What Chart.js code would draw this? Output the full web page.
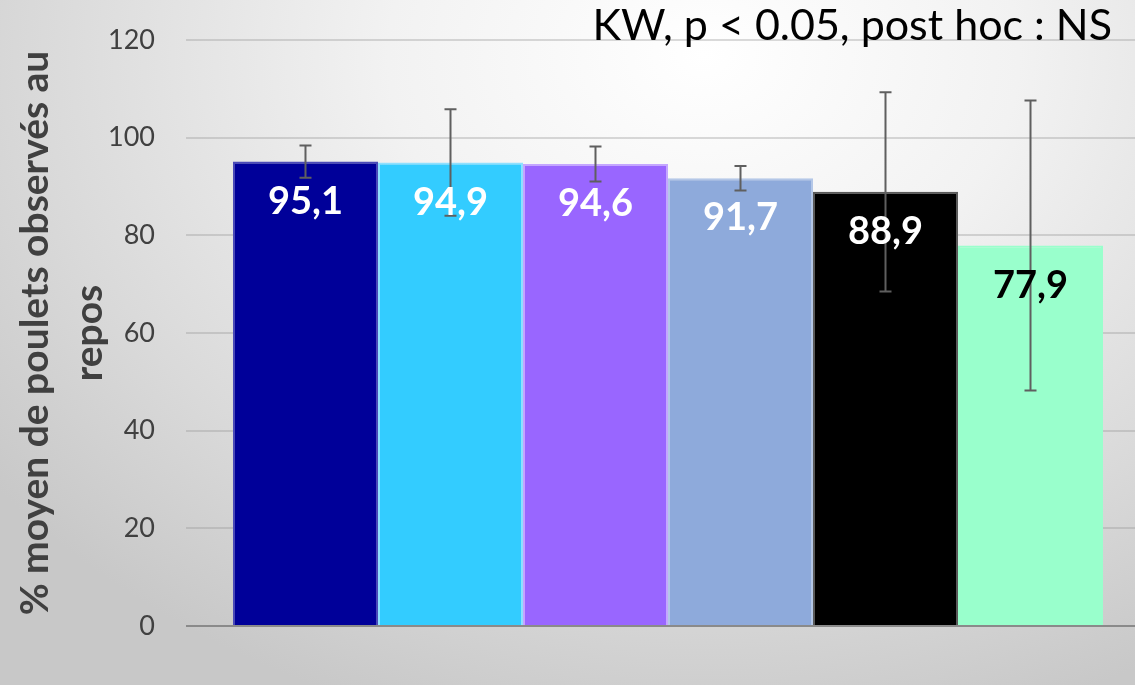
<!DOCTYPE html>
<html>
<head>
<meta charset="utf-8">
<script src="https://cdn.jsdelivr.net/npm/chart.js@4"></script>
<style>
  html, body { margin: 0; padding: 0; overflow: hidden; }
  body {
    width: 1135px; height: 685px;
    background: radial-gradient(ellipse 900px 700px at 62% 8%, #ffffff 0%, #f2f2f2 35%, #d9d9d9 75%, #c8c8c8 100%);
  }
  #wrap { position: absolute; left: 0; top: 0; width: 1150px; height: 685px; }
</style>
</head>
<body>
<div id="wrap"><canvas id="restChart" width="1150" height="685"></canvas></div>
<script>
// groups (no names shown on the chart)
const groups = ['Lot 1', 'Lot 2', 'Lot 3', 'Lot 4', 'Lot 5', 'Lot 6'];
const means = [95.1, 94.9, 94.6, 91.7, 88.9, 77.9];
const sds = [3.3, 10.9, 3.6, 2.5, 20.4, 29.7];
const yTicks = [0, 20, 40, 60, 80, 100, 120];

const fills = ['#000099', '#33ccff', '#9966ff', '#8eaadb', '#000000', '#99ffcc'];
const borders = ['#4a4ab8', '#8fe0ff', '#c4a6ff', '#b4c7e7', '#5a5a5a', '#99ffcc'];
const labelColors = ['#ffffff', '#ffffff', '#ffffff', '#ffffff', '#ffffff', '#000000'];

const FONT = 'Lato, "Open Sans", sans-serif';

// error bars + value labels
const barExtras = {
  id: 'barExtras',
  afterDatasetsDraw(chart) {
    const ctx = chart.ctx;
    const y = chart.scales.y;
    ctx.save();
    chart.data.datasets.forEach((ds, i) => {
      const bar = chart.getDatasetMeta(i).data[0];
      const top = y.getPixelForValue(means[i] + sds[i]);
      const bot = y.getPixelForValue(means[i] - sds[i]);
      ctx.strokeStyle = '#5f5f5f';
      ctx.lineWidth = 2;
      ctx.beginPath();
      ctx.moveTo(bar.x, top); ctx.lineTo(bar.x, bot);
      ctx.moveTo(bar.x - 6, top); ctx.lineTo(bar.x + 6, top);
      ctx.moveTo(bar.x - 6, bot); ctx.lineTo(bar.x + 6, bot);
      ctx.stroke();
    });
    chart.data.datasets.forEach((ds, i) => {
      const bar = chart.getDatasetMeta(i).data[0];
      ctx.fillStyle = labelColors[i];
      ctx.font = 'bold 38px ' + FONT;
      ctx.textAlign = 'center';
      ctx.textBaseline = 'middle';
      ctx.fillText(String(means[i]).replace('.', ','), bar.x, bar.y + 40);
    });
    ctx.fillStyle = '#000000';
    ctx.font = '43px ' + FONT;
    ctx.textAlign = 'right';
    ctx.textBaseline = 'alphabetic';
    ctx.fillText('KW, p < 0.05, post hoc : NS', 1112, 40);
    ctx.restore();
  }
};

new Chart(document.getElementById('restChart'), {
  type: 'bar',
  data: {
    labels: [''],
    datasets: groups.map((g, i) => ({
      label: g,
      data: [means[i]],
      backgroundColor: fills[i],
      borderColor: borders[i],
      borderWidth: 2
    }))
  },
  options: {
    responsive: false,
    animation: false,
    layout: { padding: { top: 40, bottom: 59, left: 0, right: 0 } },
    plugins: { legend: { display: false }, tooltip: { enabled: false } },
    datasets: { bar: { categoryPercentage: 0.9025, barPercentage: 1 } },
    scales: {
      x: { display: false },
      y: {
        min: 0, max: 120,
        afterBuildTicks: s => { s.ticks = yTicks.map(v => ({ value: v })); },
        afterFit: s => { s.width = 186; s.paddingTop = 0; s.paddingBottom = 0; },
        border: { display: false },
        grid: {
          drawTicks: false,
          lineWidth: 2,
          color: c => c.tick.value === 0 ? '#8a8a8a' : 'rgba(150,150,150,0.35)'
        },
        ticks: { padding: 31, color: '#404040', font: { family: FONT, size: 27 } },
        title: {
          display: true,
          text: ['% moyen de poulets observés au', 'repos'],
          color: '#404040',
          font: { family: FONT, size: 39, weight: 'bold', lineHeight: 1.4 },
          padding: { top: 8, bottom: 0 }
        }
      }
    }
  },
  plugins: [barExtras]
});
</script>
</body>
</html>
